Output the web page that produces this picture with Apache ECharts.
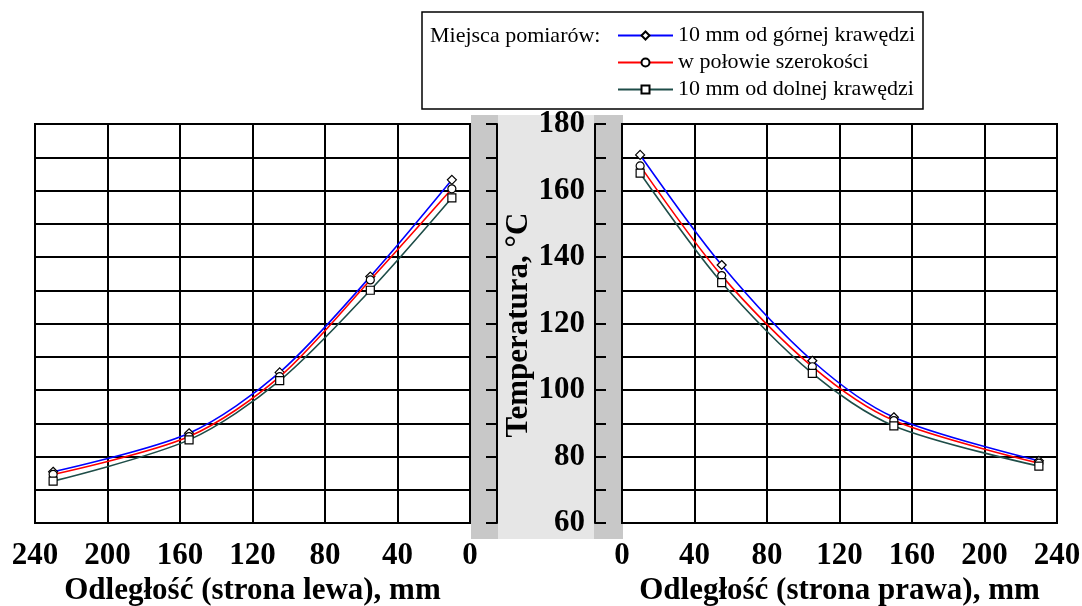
<!DOCTYPE html>
<html><head><meta charset="utf-8">
<script src="https://cdn.jsdelivr.net/npm/echarts@6/dist/echarts.min.js"></script>
<style>html,body{margin:0;padding:0;background:#fff}#c{width:1082px;height:606px}</style>
</head><body><div id="c"></div>
<script>
const seriesNames = ['10 mm od górnej krawędzi', 'w połowie szerokości', '10 mm od dolnej krawędzi'];
const xLeft = [230, 155, 105, 55, 10];
const topLeft = [75.4, 87.0, 105.3, 134.1, 163.2];
const midLeft = [74.6, 86.0, 104.0, 133.1, 160.5];
const botLeft = [72.6, 85.0, 102.8, 130.0, 157.8];
const xRight = [10, 55, 105, 150, 230];
const topRight = [170.7, 137.6, 108.8, 91.8, 78.7];
const midRight = [167.4, 134.4, 107.0, 90.8, 78.0];
const botRight = [165.2, 132.3, 105.0, 89.2, 77.1];
const xTitleLeft = 'Odległość (strona lewa), mm';
const xTitleRight = 'Odległość (strona prawa), mm';
const yTitle = 'Temperatura, °C';
const legendTitle = 'Miejsca pomiarów:';

const FONT = '"Liberation Serif", "Times New Roman", serif';
const colors = ['#0000ff', '#ff0000', '#1e4d48'];
const symbols = ['diamond', 'circle', 'rect'];
const symSizes = [9, 8, 8];

function pairs(xs, ys) { return xs.map((x, i) => [x, ys[i]]); }

function mkSeries(idx, xi, data) {
  return {
    name: seriesNames[idx], type: 'line', xAxisIndex: xi, yAxisIndex: xi,
    data: data, smooth: 0.3, symbol: symbols[idx], symbolSize: symSizes[idx],
    showAllSymbol: true,
    lineStyle: { color: colors[idx], width: 1.6 },
    itemStyle: { color: '#ffffff', borderColor: '#000', borderWidth: 1.2 },
    emphasis: { disabled: true }, z: 5 + idx
  };
}

const gridTop = 124, gridH = 399;
const splitStyle = { show: true, lineStyle: { color: '#000', width: 2 } };
const tickFont = { fontFamily: FONT, fontWeight: 'bold', fontSize: 31, color: '#000' };

const chart = echarts.init(document.getElementById('c'), null, { renderer: 'canvas' });
chart.setOption({
  animation: false,
  backgroundColor: '#fff',
  grid: [
    { left: 35, width: 435, top: gridTop, height: gridH, show: true, borderColor: '#000', borderWidth: 2, backgroundColor: '#fff', containLabel: false, outerBoundsMode: 'none' },
    { left: 622, width: 435, top: gridTop, height: gridH, show: true, borderColor: '#000', borderWidth: 2, backgroundColor: '#fff', containLabel: false, outerBoundsMode: 'none' },
    { left: 497, width: 98, top: gridTop, height: gridH, containLabel: false, outerBoundsMode: 'none' }
  ],
  xAxis: [
    { gridIndex: 0, type: 'value', min: 0, max: 240, interval: 40, inverse: true,
      axisLine: { show: false }, axisTick: { show: false }, splitLine: splitStyle,
      axisLabel: Object.assign({ margin: 17 }, tickFont),
      name: xTitleLeft, nameLocation: 'middle', nameGap: 52,
      nameTextStyle: tickFont },
    { gridIndex: 1, type: 'value', min: 0, max: 240, interval: 40,
      axisLine: { show: false }, axisTick: { show: false }, splitLine: splitStyle,
      axisLabel: Object.assign({ margin: 17 }, tickFont),
      name: xTitleRight, nameLocation: 'middle', nameGap: 52,
      nameTextStyle: tickFont },
    { gridIndex: 2, type: 'value', min: 0, max: 1, show: false }
  ],
  yAxis: [
    { gridIndex: 0, type: 'value', min: 60, max: 180, interval: 10,
      axisLine: { show: false }, axisTick: { show: false }, axisLabel: { show: false }, splitLine: splitStyle },
    { gridIndex: 1, type: 'value', min: 60, max: 180, interval: 10,
      axisLine: { show: false }, axisTick: { show: false }, axisLabel: { show: false }, splitLine: splitStyle },
    { gridIndex: 2, type: 'value', min: 60, max: 180, interval: 10, position: 'left',
      axisLine: { show: true, lineStyle: { color: '#000', width: 2 } },
      axisTick: { show: true, inside: false, length: 11, lineStyle: { color: '#000', width: 2 } },
      axisLabel: { show: false }, splitLine: { show: false } },
    { gridIndex: 2, type: 'value', min: 60, max: 180, interval: 10, position: 'right',
      axisLine: { show: true, lineStyle: { color: '#000', width: 2 } },
      axisTick: { show: true, inside: false, length: 11, lineStyle: { color: '#000', width: 2 } },
      axisLabel: Object.assign({ inside: true, margin: 10, padding: [5, 0, 0, 0], formatter: v => (v % 20 === 0 ? String(v) : '') }, tickFont),
      splitLine: { show: false } }
  ],
  legend: {
    orient: 'vertical', left: 617, top: 22, padding: 0, itemGap: 0,
    itemWidth: 55, itemHeight: 10,
    data: seriesNames,
    textStyle: { fontFamily: FONT, fontSize: 22, color: '#000', lineHeight: 27 },
    selectedMode: false
  },
  graphic: [
    { type: 'rect', z: -10, shape: { x: 471, y: 115, width: 152, height: 424 }, style: { fill: '#c8c8c8' } },
    { type: 'rect', z: -9, shape: { x: 498, y: 115, width: 96, height: 424 }, style: { fill: '#e6e6e6' } },
    { type: 'rect', z: -8, shape: { x: 422, y: 12, width: 501, height: 97 }, style: { fill: '#fff', stroke: '#000', lineWidth: 1.5 } },
    { type: 'text', z: 10, x: 430, y: 36, style: { text: legendTitle, font: '22px ' + FONT, fill: '#000', verticalAlign: 'middle', align: 'left' } },
    { type: 'text', z: 10, x: 519, y: 325, rotation: Math.PI / 2,
      style: { text: yTitle, font: 'bold 31px ' + FONT, fill: '#000', align: 'center', verticalAlign: 'middle' } }
  ],
  series: [
    mkSeries(0, 0, pairs(xLeft, topLeft)),
    mkSeries(1, 0, pairs(xLeft, midLeft)),
    mkSeries(2, 0, pairs(xLeft, botLeft)),
    mkSeries(0, 1, pairs(xRight, topRight)),
    mkSeries(1, 1, pairs(xRight, midRight)),
    mkSeries(2, 1, pairs(xRight, botRight))
  ]
});
</script></body></html>
